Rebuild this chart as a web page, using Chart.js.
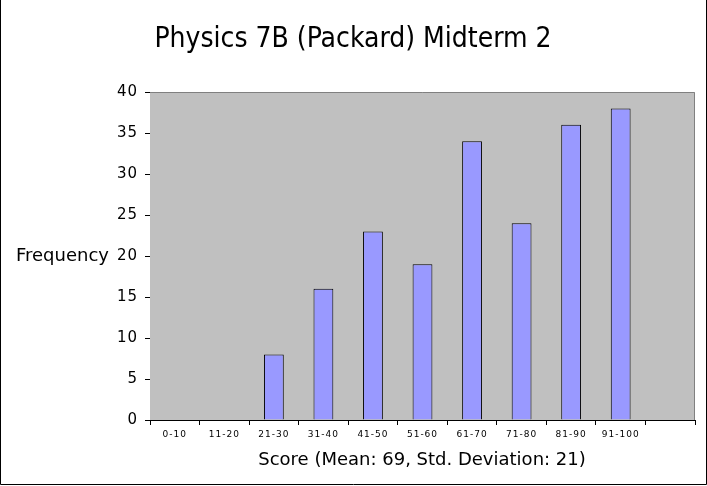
<!DOCTYPE html>
<html>
<head>
<meta charset="utf-8">
<script src="https://cdn.jsdelivr.net/npm/chart.js@4"></script>
<style>
  body { margin: 0; background: #fff; }
  #wrap { width: 707px; height: 486px; position: relative; }
</style>
</head>
<body>
<div id="wrap"><canvas id="chart"></canvas></div>
<script>
// data
const categories = ['0-10', '11-20', '21-30', '31-40', '41-50', '51-60', '61-70', '71-80', '81-90', '91-100', ''];
const frequency = [0, 0, 8, 16, 23, 19, 34, 24, 36, 38, null];
const chartTitle = 'Physics 7B (Packard) Midterm 2';
const xTitle = 'Score (Mean: 69, Std. Deviation: 21)';
const yTitle = 'Frequency';

// gray plot background + frame + texts
const decorPlugin = {
    id: 'decor',
    beforeDraw(chart) {
        // wider letters for the axis tick labels
        chart.ctx.letterSpacing = '1px';
    },
    beforeDatasetsDraw(chart) {
        const a = chart.chartArea;
        const ctx = chart.ctx;
        ctx.letterSpacing = '0px';
        ctx.save();
        ctx.fillStyle = '#c0c0c0';
        ctx.fillRect(a.left, a.top, a.right - a.left, a.bottom - a.top);
        ctx.strokeStyle = '#808080';
        ctx.lineWidth = 1;
        ctx.beginPath();
        ctx.moveTo(a.left, a.top + 0.5);
        ctx.lineTo(a.right - 0.5, a.top + 0.5);
        ctx.lineTo(a.right - 0.5, a.bottom);
        ctx.stroke();
        ctx.restore();
    },
    afterDraw(chart) {
        const ctx = chart.ctx;
        ctx.save();
        ctx.letterSpacing = '0px';
        // outer frame (left, right, bottom)
        ctx.strokeStyle = '#000';
        ctx.lineWidth = 1;
        ctx.beginPath();
        ctx.moveTo(0.5, 0);
        ctx.lineTo(0.5, 484.5);
        ctx.lineTo(706.5, 484.5);
        ctx.lineTo(706.5, 0);
        ctx.stroke();

        ctx.fillStyle = '#000';
        ctx.textBaseline = 'middle';
        ctx.textAlign = 'center';
        ctx.font = '28px "DejaVu Sans Condensed", "DejaVu Sans"';
        ctx.fillText(chartTitle, 353, 40);
        ctx.font = '18px "DejaVu Sans"';
        ctx.fillText(xTitle, 422, 460);
        ctx.textAlign = 'left';
        ctx.fillText(yTitle, 16, 256);
        ctx.restore();
    }
};

const ctx = document.getElementById('chart').getContext('2d');
const myChart = new Chart(ctx, {
    type: 'bar',
    data: {
        labels: categories,
        datasets: [{
            label: 'Frequency',
            data: frequency,
            backgroundColor: '#9999ff',
            borderColor: '#000',
            borderWidth: 1,
            barPercentage: 0.4,
            categoryPercentage: 1.0
        }]
    },
    options: {
        responsive: true,
        maintainAspectRatio: false,
        animation: false,
        layout: {
            padding: { top: 92, right: 12, bottom: 0, left: 0 }
        },
        plugins: {
            legend: { display: false },
            tooltip: { enabled: false }
        },
        scales: {
            x: {
                offset: true,
                grid: {
                    offset: true,
                    drawOnChartArea: false,
                    drawTicks: true,
                    tickLength: 5,
                    color: '#000'
                },
                border: { color: '#000', width: 1 },
                ticks: {
                    color: '#000',
                    font: { family: 'DejaVu Sans', size: 9 },
                    maxRotation: 0,
                    autoSkip: false,
                    padding: 4
                },
                afterFit(scale) { scale.height = 66; }
            },
            y: {
                min: 0,
                max: 40,
                grid: {
                    drawOnChartArea: false,
                    drawTicks: true,
                    tickLength: 5,
                    color: '#000'
                },
                border: { color: '#000', width: 1 },
                ticks: {
                    stepSize: 5,
                    color: '#000',
                    font: { family: 'DejaVu Sans', size: 15 },
                    padding: 7
                },
                afterFit(scale) { scale.width = 150; }
            }
        }
    },
    plugins: [decorPlugin]
});
</script>
</body>
</html>
